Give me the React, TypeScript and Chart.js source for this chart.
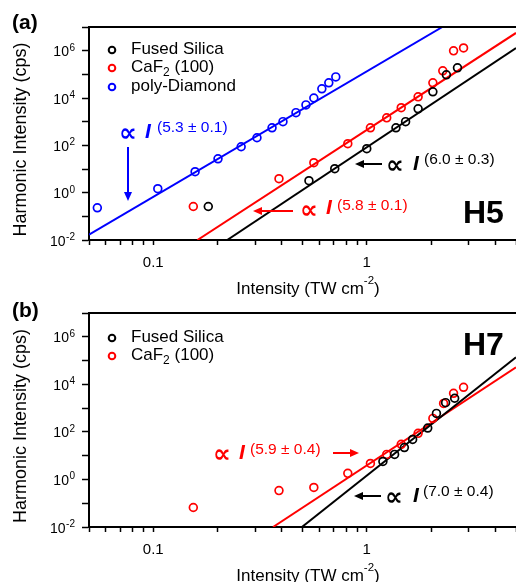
import React, { useEffect, useRef } from 'react';
import { Chart, registerables } from 'chart.js';

Chart.register(...registerables);

const SANS = '"Liberation Sans", Arial, Helvetica, sans-serif';
const MATH = '"DejaVu Sans", sans-serif';
const BLACK = '#000000';
const RED = '#ff0000';
const BLUE = '#0000ff';

// ---- axis ticks ----
const xTickValues = [0.05, 0.06, 0.07, 0.08, 0.09, 0.1, 0.2, 0.3, 0.4, 0.5, 0.6, 0.7, 0.8, 0.9, 1, 2, 3, 4, 5];
const xLabelValues = [0.1, 1];
const xLabelTexts = ['0.1', '1'];
const yTickExponents = [-2, -1, 0, 1, 2, 3, 4, 5, 6, 7];
const yLabelExponents = [-2, 0, 2, 4, 6];

// ---- panel (a) H5 ----
const aFusedX = [0.181, 0.536, 0.708, 1.0, 1.37, 1.52, 1.74, 2.04, 2.36, 2.66];
const aFusedY = [0.26, 3.2, 10.3, 72, 550, 1000, 3500, 18300, 95000, 188000];
const aCafX = [0.154, 0.388, 0.565, 0.815, 1.04, 1.24, 1.45, 1.74, 2.04, 2.27, 2.55, 2.84];
const aCafY = [0.26, 3.9, 18.5, 117, 550, 1450, 3900, 11200, 44000, 141000, 980000, 1300000];
const aDiaX = [0.0547, 0.105, 0.157, 0.201, 0.258, 0.306, 0.36, 0.405, 0.466, 0.519, 0.565, 0.616, 0.664, 0.716];
const aDiaY = [0.23, 1.47, 7.7, 27, 87, 209, 550, 1000, 2400, 5100, 10000, 24500, 44000, 78000];
const aFitFusedX = [0.222, 5];
const aFitFusedY = [0.01, 1.3e6];
const aFitCafX = [0.161, 5];
const aFitCafY = [0.01, 5.6e6];
const aFitDiaX = [0.05, 2.26];
const aFitDiaY = [0.017, 1e7];

// ---- panel (b) H7 ----
const bFusedX = [1.19, 1.35, 1.5, 1.64, 1.93, 2.12, 2.34, 2.58];
const bFusedY = [5.7, 11.3, 22, 48, 145, 600, 1700, 2600];
const bCafX = [0.154, 0.388, 0.565, 0.815, 1.04, 1.24, 1.45, 1.74, 2.04, 2.29, 2.55, 2.84];
const bCafY = [0.066, 0.34, 0.46, 1.8, 4.7, 11.3, 30, 87, 370, 1580, 4200, 7500];
const bFitFusedX = [0.497, 5];
const bFitFusedY = [0.01, 1.37e5];
const bFitCafX = [0.364, 5];
const bFitCafY = [0.01, 5.2e4];

const legendA = ['Fused Silica', 'CaF2 (100)', 'poly-Diamond'];
const legendB = ['Fused Silica', 'CaF2 (100)'];

type Pt = { x: number; y: number };
const zip = (xs: number[], ys: number[]): Pt[] => xs.map((x, i) => ({ x, y: ys[i] }));

function pointsDs(label: string, xs: number[], ys: number[], color: string) {
  return {
    label,
    data: zip(xs, ys),
    showLine: false,
    borderColor: color,
    backgroundColor: 'rgba(0,0,0,0)',
    pointStyle: 'circle',
    pointRadius: 3.9,
    pointBorderWidth: 1.7,
  };
}
function fitDs(label: string, xs: number[], ys: number[], color: string) {
  return {
    label,
    data: zip(xs, ys),
    showLine: true,
    borderColor: color,
    borderWidth: 2,
    pointRadius: 0,
    fill: false,
  };
}

function drawArrow(ctx: CanvasRenderingContext2D, x1: number, y1: number, x2: number, y2: number, color: string) {
  const ang = Math.atan2(y2 - y1, x2 - x1);
  const c = Math.cos(ang), s = Math.sin(ang);
  const hl = 9, hw = 4;
  ctx.strokeStyle = color;
  ctx.fillStyle = color;
  ctx.lineWidth = 2;
  ctx.beginPath();
  ctx.moveTo(x1, y1);
  ctx.lineTo(x2 - hl * 0.7 * c, y2 - hl * 0.7 * s);
  ctx.stroke();
  ctx.beginPath();
  ctx.moveTo(x2, y2);
  ctx.lineTo(x2 - hl * c + hw * s, y2 - hl * s - hw * c);
  ctx.lineTo(x2 - hl * c - hw * s, y2 - hl * s + hw * c);
  ctx.closePath();
  ctx.fill();
}

interface Ann {
  sym: [number, number];
  I: [number, number];
  sup: [number, number];
  text: string;
  color: string;
  arrow: [number, number, number, number];
}

interface PanelOpts {
  letter: string;
  letterBase: number;
  harmonic: string;
  harmonicBase: number;
  legend: string[];
  legendColors: string[];
  legendYs: number[];
  anns: Ann[];
  xTitleBase: number;
}

function makePlugin(p: PanelOpts) {
  return {
    id: 'decor' + p.letter,
    afterDraw(chart: any) {
      const ctx: CanvasRenderingContext2D = chart.ctx;
      const { left, right, top, bottom } = chart.chartArea;
      const xs = chart.scales.x;
      const ys = chart.scales.y;
      ctx.save();
      // top border
      ctx.strokeStyle = BLACK;
      ctx.lineWidth = 2;
      ctx.beginPath();
      ctx.moveTo(left, top);
      ctx.lineTo(right, top);
      ctx.stroke();

      ctx.fillStyle = BLACK;
      ctx.textBaseline = 'alphabetic';
      // y tick labels 10^n
      const labelRight = 75;
      yLabelExponents.forEach((e) => {
        const py = ys.getPixelForValue(Math.pow(10, e));
        ctx.font = `10px ${SANS}`;
        const es = String(e);
        const ew = ctx.measureText(es).width;
        ctx.textAlign = 'left';
        ctx.fillText(es, labelRight - ew, py);
        ctx.font = `14px ${SANS}`;
        ctx.textAlign = 'right';
        ctx.fillText('10', labelRight - ew - 0.5, py + 5.5);
      });
      // x tick labels
      ctx.font = `15px ${SANS}`;
      ctx.textAlign = 'center';
      xLabelValues.forEach((v, i) => {
        const px = xs.getPixelForValue(v);
        ctx.fillText(xLabelTexts[i], px, bottom + 26.5);
      });

      // x title
      const t1 = 'Intensity (TW cm';
      const t2 = '-2';
      const t3 = ')';
      ctx.textAlign = 'left';
      ctx.font = `17px ${SANS}`;
      const w1 = ctx.measureText(t1).width;
      const w3 = ctx.measureText(t3).width;
      ctx.font = `11.5px ${SANS}`;
      const w2 = ctx.measureText(t2).width;
      const tw = w1 + w2 + w3;
      const tx = 308 - tw / 2;
      const tb = p.xTitleBase;
      ctx.font = `17px ${SANS}`;
      ctx.fillText(t1, tx, tb);
      ctx.font = `11.5px ${SANS}`;
      ctx.fillText(t2, tx + w1, tb - 10);
      ctx.font = `17px ${SANS}`;
      ctx.fillText(t3, tx + w1 + w2, tb);

      // y title
      ctx.save();
      ctx.translate(25.5, (top + bottom) / 2 + 6);
      ctx.rotate(-Math.PI / 2);
      ctx.font = `18px ${SANS}`;
      ctx.textAlign = 'center';
      ctx.fillText('Harmonic Intensity (cps)', 0, 0);
      ctx.restore();

      // panel letter
      ctx.font = `bold 21px ${SANS}`;
      ctx.textAlign = 'left';
      ctx.fillText(p.letter, 12, p.letterBase);

      // harmonic label
      ctx.font = `bold 32px ${SANS}`;
      ctx.fillText(p.harmonic, 463, p.harmonicBase);

      // legend
      p.legend.forEach((lab, i) => {
        const y = p.legendYs[i];
        ctx.strokeStyle = p.legendColors[i];
        ctx.lineWidth = 2;
        ctx.beginPath();
        ctx.arc(112, y, 3.3, 0, Math.PI * 2);
        ctx.stroke();
        ctx.fillStyle = BLACK;
        const base = y + 4;
        let x = 131;
        if (lab.startsWith('CaF2')) {
          ctx.font = `17px ${SANS}`;
          ctx.fillText('CaF', x, base);
          x += ctx.measureText('CaF').width;
          ctx.font = `12px ${SANS}`;
          ctx.fillText('2', x, base + 4);
          x += ctx.measureText('2').width;
          ctx.font = `17px ${SANS}`;
          ctx.fillText(lab.slice(4), x, base);
        } else {
          ctx.font = `17px ${SANS}`;
          ctx.fillText(lab, x, base);
        }
      });

      // annotations
      p.anns.forEach((a) => {
        ctx.fillStyle = a.color;
        ctx.textAlign = 'left';
        ctx.textBaseline = 'middle';
        ctx.font = `bold 25px ${MATH}`;
        ctx.fillText('\u221D', a.sym[0], a.sym[1]);
        ctx.font = `italic bold 21px ${SANS}`;
        ctx.fillText('I', a.I[0], a.I[1]);
        ctx.font = `15.5px ${SANS}`;
        ctx.fillText(a.text, a.sup[0], a.sup[1]);
        drawArrow(ctx, a.arrow[0], a.arrow[1], a.arrow[2], a.arrow[3], a.color);
      });
      ctx.restore();
    },
  };
}

function makeConfig(datasets: any[], padTop: number, axisH: number, plugin: any) {
  return {
    type: 'scatter',
    data: { datasets },
    options: {
      animation: false,
      responsive: false,
      events: [],
      layout: { autoPadding: false, padding: { top: padTop, left: 0, right: 0, bottom: 0 } },
      plugins: { legend: { display: false }, tooltip: { enabled: false } },
      scales: {
        x: {
          type: 'logarithmic',
          position: 'bottom',
          min: 0.05,
          max: 5,
          afterBuildTicks: (s: any) => {
            s.ticks = xTickValues.map((v) => ({ value: v }));
          },
          afterFit: (s: any) => {
            s.height = axisH;
          },
          ticks: { display: false, autoSkip: false },
          grid: { display: true, drawOnChartArea: false, drawTicks: true, tickLength: 5, tickColor: BLACK, tickWidth: 1.5 },
          border: { display: true, color: BLACK, width: 2 },
        },
        y: {
          type: 'logarithmic',
          position: 'left',
          min: 0.01,
          max: 1e7,
          afterBuildTicks: (s: any) => {
            s.ticks = yTickExponents.map((e) => ({ value: Math.pow(10, e) }));
          },
          afterFit: (s: any) => {
            s.width = 89;
          },
          ticks: { display: false, autoSkip: false },
          grid: { display: true, drawOnChartArea: false, drawTicks: true, tickLength: 7, tickColor: BLACK, tickWidth: 1.5 },
          border: { display: true, color: BLACK, width: 2 },
        },
      },
    },
    plugins: [plugin],
  };
}

export default function App() {
  const aRef = useRef<HTMLCanvasElement | null>(null);
  const bRef = useRef<HTMLCanvasElement | null>(null);

  useEffect(() => {
    const plugA = makePlugin({
      letter: '(a)',
      letterBase: 29,
      harmonic: 'H5',
      harmonicBase: 222.5,
      legend: legendA,
      legendColors: [BLACK, RED, BLUE],
      legendYs: [50, 68, 87],
      xTitleBase: 294,
      anns: [
        { sym: [119, 134], I: [145, 132], sup: [157, 128], text: '(5.3 \u00B1 0.1)', color: BLUE, arrow: [128, 147, 128, 201] },
        { sym: [386, 166], I: [413, 164], sup: [424, 160], text: '(6.0 \u00B1 0.3)', color: BLACK, arrow: [382, 164, 355, 164] },
        { sym: [300, 211], I: [326, 208], sup: [337, 206], text: '(5.8 \u00B1 0.1)', color: RED, arrow: [293, 211, 253, 211] },
      ],
    });
    const plugB = makePlugin({
      letter: '(b)',
      letterBase: 17,
      harmonic: 'H7',
      harmonicBase: 54.5,
      legend: legendB,
      legendColors: [BLACK, RED],
      legendYs: [38, 56],
      xTitleBase: 281,
      anns: [
        { sym: [213, 155], I: [239, 153], sup: [250, 150], text: '(5.9 \u00B1 0.4)', color: RED, arrow: [333, 153, 359, 153] },
        { sym: [385, 198], I: [413, 196], sup: [423, 192], text: '(7.0 \u00B1 0.4)', color: BLACK, arrow: [381, 196, 354, 196] },
      ],
    });

    const dsA = [
      pointsDs('Fused Silica', aFusedX, aFusedY, BLACK),
      pointsDs('CaF2 (100)', aCafX, aCafY, RED),
      pointsDs('poly-Diamond', aDiaX, aDiaY, BLUE),
      fitDs('fit FS', aFitFusedX, aFitFusedY, BLACK),
      fitDs('fit CaF2', aFitCafX, aFitCafY, RED),
      fitDs('fit diamond', aFitDiaX, aFitDiaY, BLUE),
    ];
    const dsB = [
      pointsDs('Fused Silica', bFusedX, bFusedY, BLACK),
      pointsDs('CaF2 (100)', bCafX, bCafY, RED),
      fitDs('fit FS', bFitFusedX, bFitFusedY, BLACK),
      fitDs('fit CaF2', bFitCafX, bFitCafY, RED),
    ];

    const chartA = new Chart(aRef.current as HTMLCanvasElement, makeConfig(dsA, 27, 60, plugA) as any);
    const chartB = new Chart(bRef.current as HTMLCanvasElement, makeConfig(dsB, 13, 55, plugB) as any);
    return () => {
      chartA.destroy();
      chartB.destroy();
    };
  }, []);

  return (
    <div style={{ position: 'absolute', left: 0, top: 0, width: 516, height: 582, background: '#ffffff', overflow: 'hidden' }}>
      <canvas ref={aRef} width={516} height={300} style={{ position: 'absolute', left: 0, top: 0, width: 516, height: 300 }} />
      <canvas ref={bRef} width={516} height={282} style={{ position: 'absolute', left: 0, top: 300, width: 516, height: 282 }} />
    </div>
  );
}
